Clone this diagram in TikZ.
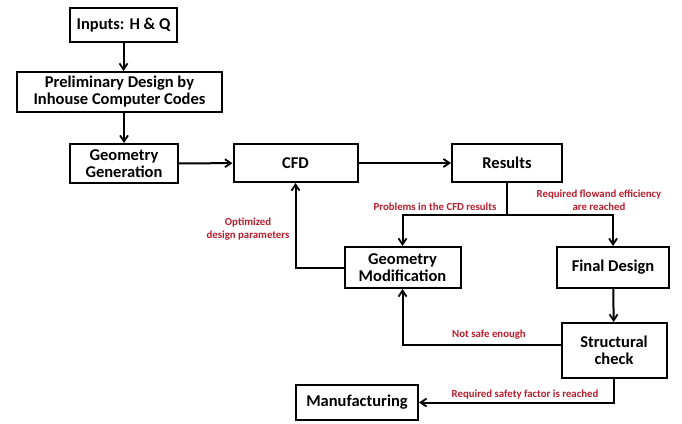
\documentclass[tikz,border=0pt]{standalone}
\usepackage{fontspec}
\setmainfont{Carlito}
\usetikzlibrary{arrows.meta}
\definecolor{lblred}{RGB}{185,30,45}
\begin{document}
\begin{tikzpicture}[x=1pt,y=-1pt,
  box/.style={draw=black,line width=2pt,inner sep=0pt,font=\fontsize{16.5}{17}\selectfont\bfseries,align=center},
  conn/.style={line width=2pt,-{Straight Barb[length=6pt,width=8pt,line width=1.8pt]}},
  lbl/.style={text=lblred,font=\fontsize{10.8}{13.5}\selectfont\bfseries,inner sep=0pt}]
\useasboundingbox (0,0) rectangle (682,423);
\node[box,minimum width=107pt,minimum height=34pt] (inp) at (123.5,25) {Inputs: H \& Q};
\node[box,minimum width=205pt,minimum height=40pt] (pre) at (119.5,92) {Preliminary Design by\\Inhouse Computer Codes};
\node[box,minimum width=108pt,minimum height=39pt] (geo) at (124,163.5) {Geometry\\Generation};
\node[box,minimum width=124pt,minimum height=38pt] (cfd) at (295.5,163) {CFD};
\node[box,minimum width=110pt,minimum height=38pt] (res) at (507,163) {Results};
\node[box,minimum width=116pt,minimum height=41pt] (mod) at (402.5,267.5) {Geometry\\Modification};
\node[box,minimum width=112pt,minimum height=41pt] (fin) at (613,267.5) {Final Design};
\node[box,minimum width=105pt,minimum height=55pt] (str) at (614,350.5) {Structural\\check};
\node[box,minimum width=122pt,minimum height=35pt] (man) at (357,402.5) {Manufacturing};
\coordinate (j) at (507,215);
\draw[conn] (inp.south) -- (inp.south |- pre.north);
\draw[conn] (pre.south -| geo.north) -- (geo.north);
\draw[conn] (geo) -- (cfd);
\draw[conn] (cfd) -- (res);
\draw[line width=2pt] (res.south) -- (j);
\draw[conn] (j) -| (mod.north);
\draw[conn] (j) -| (fin.north);
\draw[conn] (mod.west) -| (cfd.south);
\draw[conn] (fin) -- (str);
\draw[conn] (str.west |- 0,345) -| (mod.south);
\draw[conn] (str.south) |- (man.east);
\node[lbl,align=center] (l1) at (248,229) {Optimized\\design parameters};
\node[lbl] (l2) at (435,207) {Problems in the CFD results};
\node[lbl,align=center] (l3) at (599,200) {Required flowand efficiency\\are reached};
\node[lbl] (l4) at (489,335) {Not safe enough};
\node[lbl] (l5) at (525,395) {Required safety factor is reached};
\end{tikzpicture}
\end{document}
